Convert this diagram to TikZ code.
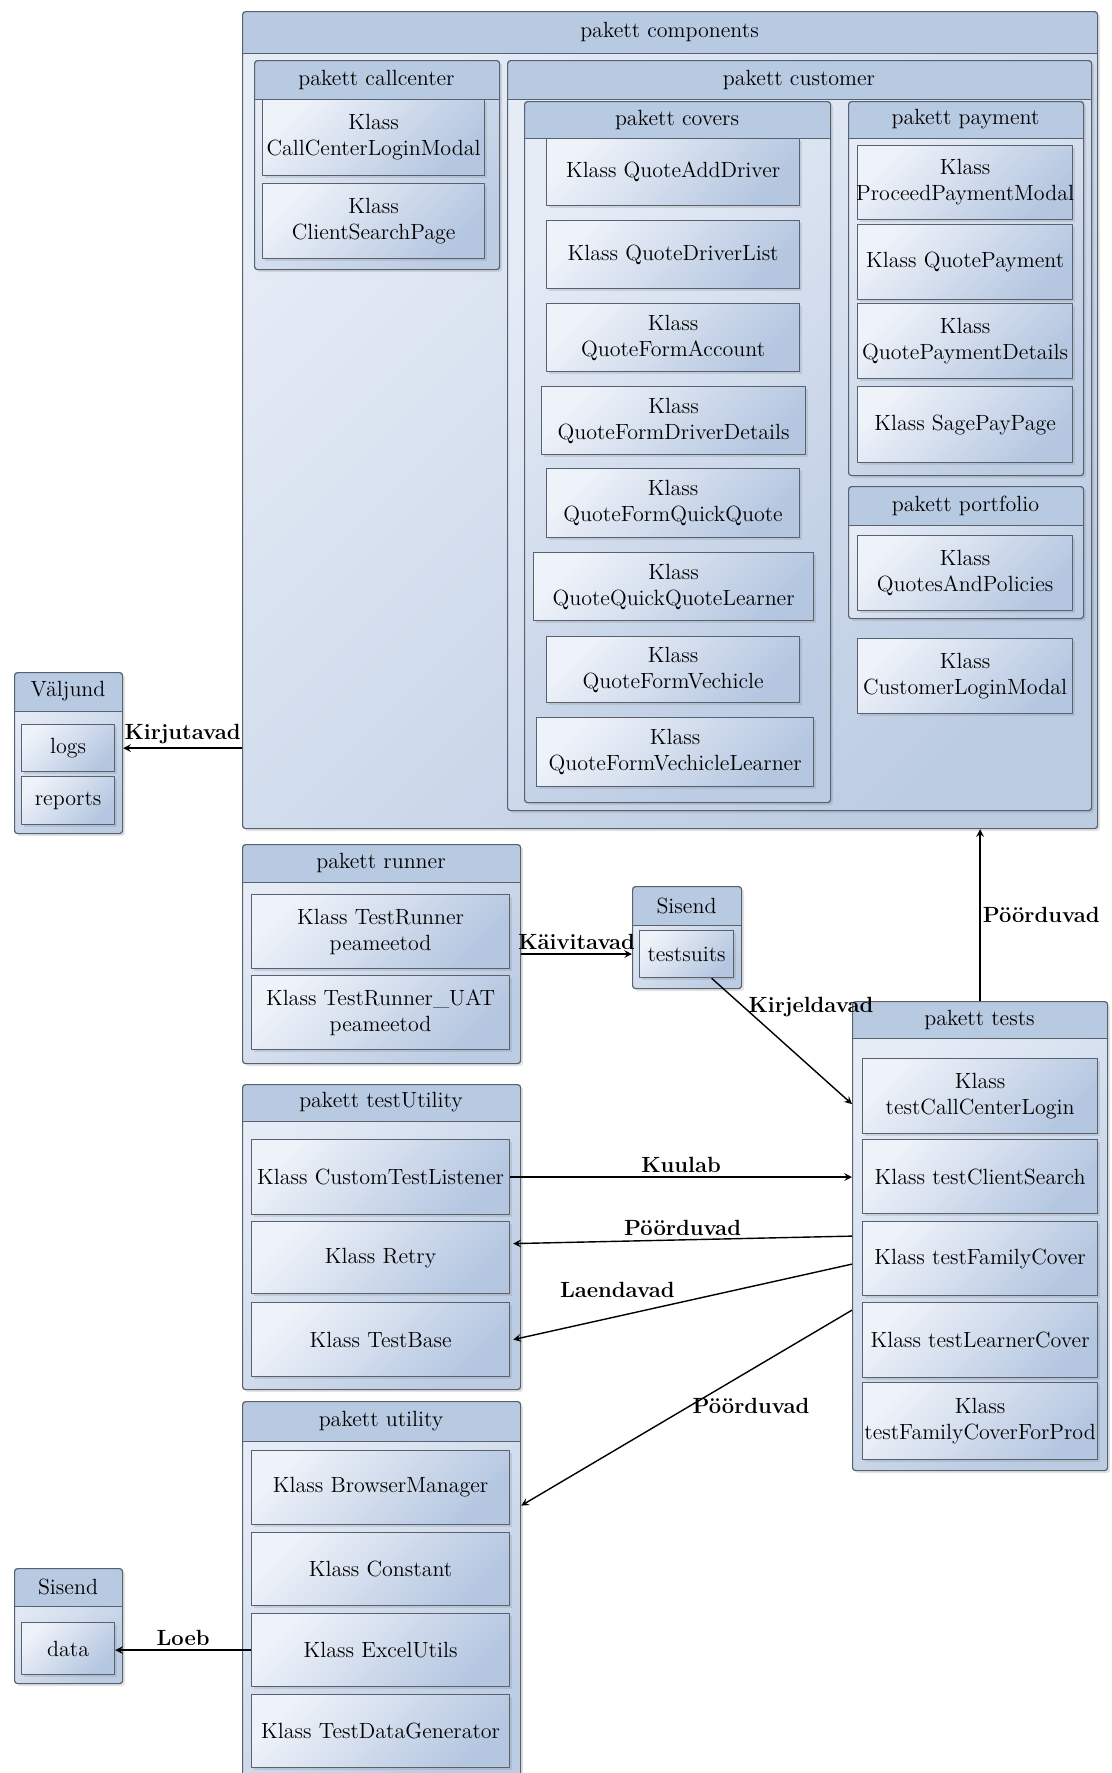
\documentclass[tikz,border=0pt]{standalone}
\usepackage{fontspec}
\usetikzlibrary{shadows,calc,positioning}
\definecolor{hdrfill}{HTML}{B8C9E2}
\definecolor{pkglight}{HTML}{E6ECF6}
\definecolor{pkgdark}{HTML}{BCCCE3}
\definecolor{klight}{HTML}{EEF2F9}
\definecolor{kdark}{HTML}{B4C6E0}
\definecolor{boxline}{HTML}{58616F}
\begin{document}
\begin{tikzpicture}[x=0.5pt, y=-0.5pt, >=stealth, line join=round,
	font=\fontsize{11}{13}\selectfont,
	pkgbody/.style={draw=boxline, line width=0.6pt, rounded corners=1.5pt, top color=pkglight, bottom color=pkgdark, shading angle=45,
		drop shadow={shadow xshift=1.2pt, shadow yshift=-1.2pt, opacity=0.22}},
	klass/.style={draw=boxline, line width=0.6pt, top color=klight, bottom color=kdark, shading angle=45, inner sep=0pt,
		drop shadow={shadow xshift=1.2pt, shadow yshift=-1.2pt, opacity=0.22}},
	ktxt/.style={align=center, inner sep=0pt},
	ptxt/.style={inner sep=0pt},
	rel/.style={->, line width=0.7pt},
	rlbl/.style={font=\fontsize{11}{13}\selectfont\bfseries, inner sep=2pt}]
	% pakett: nimi, x1, y1, x2, y2, päis, pealkiri
	\def\pakett#1#2#3#4#5#6#7{%
		\node[pkgbody, anchor=north west, minimum width={(#4-#2)*0.5pt}, minimum height={(#5-#3)*0.5pt},
			path picture={\coordinate (hh) at ([yshift={-#6*0.5pt}]path picture bounding box.north east);
				\fill[hdrfill] (path picture bounding box.north west) rectangle (hh);
				\draw[boxline, line width=0.6pt] (hh) -- (hh -| path picture bounding box.west);}] (#1) at (#2,#3) {};
		\node[ptxt] (#1-t) at ({(#2+#4)/2},{#3+#6/2}) {#7};}
	% klass: nimi, x1, y1, x2, y2, tekst
	\def\klass#1#2#3#4#5#6{%
		\node[klass, anchor=north west, minimum width={(#4-#2)*0.5pt}, minimum height={(#5-#3)*0.5pt},
			label={[ktxt]center:{#6}}] (#1) at (#2,#3) {};}
	\useasboundingbox (0,0) rectangle (1112,1773);
	% components
	\pakett{components}{242}{11}{1097}{828}{42}{pakett components}
	\pakett{callcenter}{254}{60}{499}{269}{39}{pakett callcenter}
	\klass{ccl}{262}{99}{484}{175}{Klass\\CallCenterLoginModal}
	\klass{csp}{262}{183}{484}{258}{Klass\\ClientSearchPage}
	\pakett{customer}{507}{60}{1091}{810}{39}{pakett customer}
	\pakett{covers}{524}{101}{830}{802}{37}{pakett covers}
	\klass{qad}{546}{138}{799}{205}{Klass QuoteAddDriver}
	\klass{qdl}{546}{220}{799}{288}{Klass QuoteDriverList}
	\klass{qfa}{546}{303}{799}{371}{Klass\\QuoteFormAccount}
	\klass{qfdd}{541}{386}{805}{454}{Klass\\QuoteFormDriverDetails}
	\klass{qfqq}{546}{468}{799}{537}{Klass\\QuoteFormQuickQuote}
	\klass{qqql}{533}{552}{813}{620}{Klass\\QuoteQuickQuoteLearner}
	\klass{qfv}{546}{636}{799}{702}{Klass\\QuoteFormVechicle}
	\klass{qfvl}{536}{717}{813}{786}{Klass\\QuoteFormVechicleLearner}
	\pakett{payment}{848}{101}{1083}{475}{37}{pakett payment}
	\klass{ppm}{857}{145}{1072}{219}{Klass\\ProceedPaymentModal}
	\klass{qp}{857}{224}{1072}{299}{Klass QuotePayment}
	\klass{qpd}{857}{303}{1072}{378}{Klass\\QuotePaymentDetails}
	\klass{spp}{857}{386}{1072}{462}{Klass SagePayPage}
	\pakett{portfolio}{848}{486}{1083}{618}{39}{pakett portfolio}
	\klass{qap}{857}{535}{1072}{610}{Klass\\QuotesAndPolicies}
	\klass{clm}{857}{638}{1072}{713}{Klass\\CustomerLoginModal}
	% väljund ja sisendid
	\pakett{valjund}{14}{672}{122}{833}{39}{Väljund}
	\klass{logs}{21}{724}{114}{771}{logs}
	\klass{reports}{21}{776}{114}{824}{reports}
	\pakett{sisend}{632}{886}{741}{988}{39}{Sisend}
	\klass{ts}{639}{930}{733}{977}{testsuits}
	\pakett{sisend2}{14}{1568}{122}{1683}{38}{Sisend}
	\klass{data}{21}{1622}{114}{1674}{data}
	% runner, testUtility, utility
	\pakett{runner}{242}{844}{520}{1063}{38}{pakett runner}
	\klass{tr}{251}{894}{509}{968}{Klass TestRunner\\peameetod}
	\klass{truat}{251}{975}{509}{1049}{Klass TestRunner\_UAT\\peameetod}
	\pakett{testutil}{242}{1084}{520}{1389}{37}{pakett testUtility}
	\klass{ctl}{251}{1139}{509}{1214}{Klass CustomTestListener}
	\klass{retry}{251}{1221}{509}{1293}{Klass Retry}
	\klass{tb}{251}{1302}{509}{1376}{Klass TestBase}
	\pakett{utility}{242}{1401}{520}{1800}{40}{pakett utility}
	\klass{bm}{251}{1450}{509}{1524}{Klass BrowserManager}
	\klass{const}{251}{1532}{509}{1605}{Klass Constant}
	\klass{eu}{251}{1613}{509}{1686}{Klass ExcelUtils}
	\klass{tdg}{251}{1694}{509}{1767}{Klass TestDataGenerator}
	% tests
	\pakett{tests}{852}{1001}{1107}{1470}{37}{pakett tests}
	\klass{tccl}{862}{1058}{1097}{1133}{Klass\\testCallCenterLogin}
	\klass{tcs}{862}{1139}{1097}{1213}{Klass testClientSearch}
	\klass{tfc}{862}{1221}{1097}{1295}{Klass testFamilyCover}
	\klass{tlc}{862}{1302}{1097}{1377}{Klass testLearnerCover}
	\klass{tfcp}{862}{1382}{1097}{1459}{Klass\\testFamilyCoverForProd}
	% seosed
	\draw[rel] (components.west |- logs.east) -- node[rlbl, above]{Kirjutavad} (valjund.east |- logs.east);
	\draw[rel] (runner.east) -- node[rlbl, above]{Käivitavad} (runner.east -| sisend.west);
	\draw[rel] ($(ts.south)+(25,0)$) -- node[rlbl, pos=0.23, anchor=west]{Kirjeldavad} ($(tests.west |- tccl.east)+(0,8)$);
	\draw[rel] (tests.north) -- node[rlbl, right, inner sep=1pt]{Pöörduvad} (tests.north |- components.south);
	\draw[rel] (ctl.east) -- node[rlbl, above]{Kuulab} (tests.west |- ctl.east);
	\draw[rel] (tests.west) -- node[rlbl, above]{Pöörduvad} ($(retry.east)+(3,-14)$);
	\draw[rel] ($(tests.west)+(0,28)$) -- node[rlbl, pos=0.51, anchor=south east]{Laendavad} ($(tb.east)+(3,0)$);
	\draw[rel] ($(tests.west)+(0,74)$) -- node[rlbl, pos=0.49, anchor=west, inner sep=1pt]{Pöörduvad} ($(utility.east |- bm.east)+(0,18)$);
	\draw[rel] (eu.west) -- node[rlbl, above]{Loeb} (eu.west -| data.east);
\end{tikzpicture}
\end{document}
